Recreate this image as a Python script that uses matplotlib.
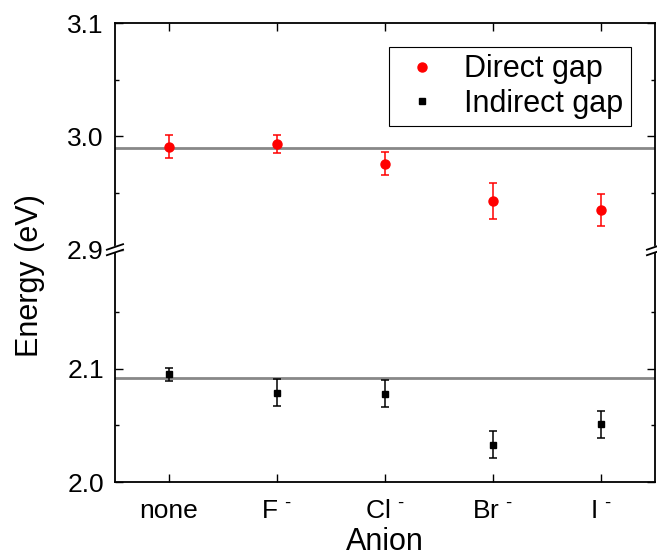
import numpy as np
import matplotlib
matplotlib.use("Agg")
import matplotlib.pyplot as plt
from matplotlib.lines import Line2D

plt.rcParams['font.family'] = ['Liberation Sans', 'DejaVu Sans']
plt.rcParams['mathtext.fontset'] = 'custom'
plt.rcParams['mathtext.rm'] = 'Liberation Sans'
plt.rcParams['mathtext.it'] = 'Liberation Sans'

# Data
anions = ['none', 'F $^{\u2010}$', 'Cl $^{\u2010}$', 'Br $^{\u2010}$', 'I $^{\u2010}$']
direct_gap = [2.991, 2.993, 2.976, 2.943, 2.935]
direct_err = [0.010, 0.008, 0.010, 0.016, 0.014]
indirect_gap = [2.095, 2.079, 2.078, 2.033, 2.051]
indirect_err = [0.006, 0.012, 0.012, 0.012, 0.012]
direct_ref = 2.990
indirect_ref = 2.092

# broken y axis: 2.0..lo_top then 2.9..3.1
lo_top = 2.205
hi_bot = 2.9
shift = hi_bot - lo_top


def fwd(y):
    y = np.asarray(y, dtype=float)
    return np.where(y <= lo_top, y, np.where(y >= hi_bot, y - shift, lo_top))


def inv(z):
    z = np.asarray(z, dtype=float)
    return np.where(z <= lo_top, z, z + shift)


fig = plt.figure(figsize=(6.57, 5.56), dpi=100)
ax = fig.add_axes([0.175, 0.133, 0.822, 0.8256])
ax.set_yscale('function', functions=(fwd, inv))

x = np.arange(len(anions))

ax.axhline(direct_ref, color='#888888', lw=2.0, zorder=1)
ax.axhline(indirect_ref, color='#888888', lw=2.0, zorder=1)

ax.errorbar(x, direct_gap, yerr=direct_err, fmt='o', color='red', ms=6.5,
            capsize=3.2, elinewidth=1.1, capthick=1.1, zorder=3)
ax.errorbar(x, indirect_gap, yerr=indirect_err, fmt='s', color='black', ms=4.5,
            capsize=3.2, elinewidth=1.1, capthick=1.1, zorder=3)

ax.set_xlim(-0.5, len(anions) - 0.5)
ax.set_ylim(2.0, 3.1)
ax.set_xticks(x)
ax.set_xticklabels(anions)
ax.set_yticks([2.0, 2.1, 2.9, 3.0, 3.1])
ax.set_yticklabels(['2.0', '2.1', '2.9', '3.0', '3.1'])
ax.set_yticks([2.05, 2.15, 2.95, 3.05], minor=True)
ax.tick_params(axis='both', which='major', direction='in', length=6, width=1.0,
               labelsize=19, top=True, right=True, pad=8)
ax.tick_params(axis='x', which='major', pad=12)
ax.tick_params(axis='y', which='minor', direction='in', length=3, width=1.0, right=True)
ax.tick_params(axis='x', which='minor', bottom=False, top=False)
for s in ax.spines.values():
    s.set_linewidth(1.3)

ax.set_xlabel('Anion', fontsize=22, labelpad=3)
ax.set_ylabel('Energy (eV)', fontsize=22)
ax.yaxis.set_label_coords(-0.13, 0.45)

# break marks on both spines
yb = (fwd(hi_bot) - 2.0) / (fwd(3.1) - 2.0)
for xc in (0.0, 1.0):
    xs = [xc - 0.015, xc + 0.015]
    ax.fill([xs[0], xs[1], xs[1], xs[0]],
            [yb - 0.011, yb, yb + 0.012, yb + 0.001],
            color='white', transform=ax.transAxes, clip_on=False, zorder=5)
    ax.plot(xs, [yb - 0.012, yb], color='black', lw=1.3,
            transform=ax.transAxes, clip_on=False, zorder=6)
    ax.plot(xs, [yb, yb + 0.012], color='black', lw=1.3,
            transform=ax.transAxes, clip_on=False, zorder=6)

handles = [Line2D([], [], ls='none', marker='o', color='red', ms=6.5),
           Line2D([], [], ls='none', marker='s', color='black', ms=4.5)]
leg = ax.legend(handles, ['Direct gap', 'Indirect gap'], loc='upper right',
                bbox_to_anchor=(0.984, 0.982), fontsize=22,
                frameon=True, fancybox=False, edgecolor='black', framealpha=1,
                handletextpad=0.6, borderpad=0.25, labelspacing=0.15,
                handlelength=1.6)
leg.get_frame().set_linewidth(0.8)

fig.savefig('out.png', dpi=100)
